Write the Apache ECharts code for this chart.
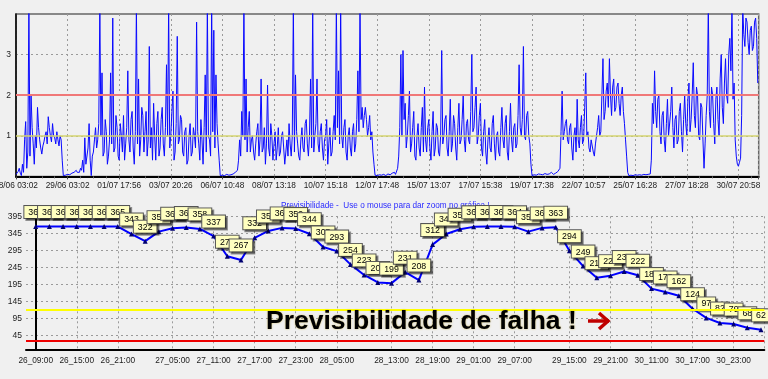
<!DOCTYPE html>
<html><head><meta charset="utf-8">
<script src="https://cdn.jsdelivr.net/npm/echarts@6/dist/echarts.min.js"></script>
<style>html,body{margin:0;padding:0;background:#f0f0f0}#c{width:768px;height:379px}</style>
</head><body><div id="c"></div><script>
// ---- top panel data ----
const topTickLabels = ["28/06 03:02","29/06 03:02","01/07 17:56","03/07 20:26","06/07 10:48","08/07 13:18","10/07 15:18","12/07 17:48","15/07 13:07","17/07 15:38","19/07 17:38","22/07 10:57","25/07 16:28","27/07 18:28","30/07 20:58"];
const topPointsPerTick = 48;
const topYTicks = [1, 2, 3];
const topRedLimit = 2;
const topYellowLimit = 1;
const topValues = [
0.05,0.02,0.12,0.2,0.08,0.02,0.3,0.1,0.9,1.35,0.2,0.6,4.2,0.5,2.0,1.2,0.8,0.3,1.0,0.7,
1.7,1.2,0.9,0.7,0.55,0.75,0.85,1.0,1.1,0.8,1.47,1.2,1.0,0.85,1.3,1.0,0.95,0.8,1.1,0.9,
0.75,1.0,0.9,0.4,0.02,0.03,0.03,0.02,0.05,0.04,0.04,0.06,0.08,0.05,0.1,0.12,0.15,0.1,0.12,0.1,
0.2,0.15,0.4,0.1,0.95,0.3,0.3,0.7,1.3,0.4,0.02,0.5,0.6,0.9,1.2,0.7,0.9,1.3,4.2,1.0,
2.55,0.5,0.6,1.4,1.1,0.3,0.5,0.9,2.55,0.8,3.9,0.6,0.7,1.5,1.2,0.5,0.4,1.3,1.0,0.6,
1.5,0.4,0.8,1.2,2.6,0.9,0.6,1.4,1.6,0.7,0.3,1.1,4.2,0.8,2.4,0.5,0.9,1.7,1.5,0.6,
1.1,1.6,0.5,0.9,3.2,0.7,1.2,0.4,1.8,1.0,0.4,1.3,1.6,0.5,0.7,1.4,1.7,0.8,0.5,1.2,
2.75,1.0,4.2,0.7,1.0,1.6,2.1,0.4,0.6,1.3,3.45,0.8,0.9,1.5,1.4,0.6,0.5,1.1,1.2,0.3,
0.4,1.0,1.3,0.5,0.6,1.2,1.0,0.7,3.8,1.1,0.8,0.4,1.4,0.9,0.3,1.2,2.5,0.6,4.2,1.0,
0.9,0.5,4.2,1.1,3.6,0.7,2.5,1.3,0.8,0.4,0.02,0.04,0.03,0.02,0.02,0.03,0.05,0.04,0.03,0.05,
0.04,0.05,0.06,0.08,0.1,0.07,0.15,0.4,0.9,0.5,1.6,1.0,4.2,0.9,2.4,0.6,1.2,1.6,0.6,0.9,
1.0,0.6,0.4,0.8,1.1,1.3,0.5,0.9,2.4,0.6,0.7,1.2,0.3,0.8,2.25,0.7,0.5,1.3,1.0,0.4,
0.8,1.1,0.4,0.7,1.2,0.5,0.6,1.0,1.1,0.7,0.3,0.6,0.9,0.5,1.3,0.8,0.5,1.0,4.2,0.6,
2.5,1.1,0.8,0.5,0.4,0.9,1.2,0.7,0.6,1.3,1.4,0.8,0.5,1.0,2.4,0.7,4.2,0.6,1.0,1.3,
2.4,0.8,0.6,1.1,1.3,0.7,0.4,0.9,1.0,1.4,0.3,0.8,1.2,0.5,0.6,1.1,1.5,0.9,4.2,1.2,
2.6,0.8,4.2,1.0,0.7,1.2,1.4,0.6,0.4,1.0,1.2,0.7,0.5,1.1,1.3,0.6,0.8,1.4,2.6,1.1,
4.2,1.4,1.7,1.2,1.5,1.7,1.4,1.0,1.2,1.5,0.9,1.1,0.6,0.3,0.03,0.02,0.02,0.03,0.04,0.02,
0.03,0.04,0.05,0.03,0.02,0.05,0.06,0.04,0.04,0.07,0.08,0.06,0.1,0.05,0.07,0.2,0.5,1.2,3.0,1.0,
3.1,1.4,1.8,0.7,1.0,1.5,2.1,0.6,0.8,1.2,1.6,0.5,0.4,1.0,1.3,0.7,0.5,1.2,1.7,0.6,
2.2,0.9,0.6,1.2,1.4,0.7,0.4,1.1,1.6,0.5,0.7,1.3,1.2,0.6,0.5,1.0,3.1,0.8,1.0,1.4,
1.5,0.7,0.5,1.1,1.9,0.6,0.8,1.5,1.3,0.7,0.4,1.2,1.8,0.8,0.9,1.4,2.0,0.9,0.6,1.3,
1.4,0.9,0.8,1.6,3.0,1.1,1.2,1.7,2.2,0.8,1.0,1.5,1.8,0.7,0.5,1.1,1.4,0.6,0.3,0.9,
1.2,0.7,0.6,1.3,1.5,0.8,0.4,1.0,1.1,0.6,0.5,1.2,1.7,0.9,0.7,1.3,1.5,0.6,0.4,1.1,
1.8,0.9,0.6,1.2,1.3,0.7,0.8,1.5,2.75,1.2,1.0,1.4,3.2,1.0,0.9,1.5,1.6,1.0,0.8,0.3,
0.02,0.03,0.04,0.05,0.03,0.04,0.06,0.05,0.05,0.03,0.04,0.06,0.07,0.05,0.05,0.07,0.06,0.08,0.1,0.06,
0.05,0.07,0.08,0.1,0.12,0.1,0.2,1.1,2.1,0.9,1.1,1.3,1.4,0.9,0.8,1.2,1.3,0.7,0.4,1.0,
1.2,0.6,1.9,0.9,0.7,1.2,1.5,0.8,0.9,1.7,2.55,1.0,1.1,0.7,0.6,0.9,0.9,0.6,0.5,0.8,
0.8,1.2,1.5,1.0,1.1,2.0,2.9,1.4,1.6,2.1,2.3,1.7,2.9,2.0,1.5,2.2,2.4,1.6,1.7,2.2,
2.3,1.8,1.5,2.0,2.2,1.6,1.3,0.9,0.5,0.1,0.02,0.04,0.03,0.02,0.02,0.04,0.04,0.03,0.03,0.05,
0.04,0.03,0.03,0.05,0.05,0.03,0.04,0.06,0.05,0.04,0.06,0.4,1.8,1.3,2.6,1.6,1.2,1.9,2.0,1.1,
0.8,1.5,1.6,0.9,0.6,1.3,1.9,1.0,1.0,1.6,2.2,1.2,0.7,1.4,1.5,0.8,0.9,1.6,1.8,1.1,
0.6,1.4,2.0,1.3,1.0,1.9,2.3,1.1,1.4,2.0,2.8,1.5,1.2,2.2,2.0,1.0,0.9,1.8,1.7,0.9,
0.2,0.8,1.5,2.0,4.2,1.6,1.2,2.2,2.0,1.3,0.8,1.9,2.2,1.4,1.0,2.4,3.0,1.7,1.3,2.3,
2.9,2.0,1.8,3.0,3.4,2.6,4.2,1.9,2.3,0.9,0.5,0.3,0.25,0.35,0.45,1.5,4.2,3.5,3.2,3.9,
3.8,3.3,3.0,3.6,3.7,3.1,3.2,3.8,3.9,3.4,2.3
];

// ---- bottom panel data ----
const bottomCategories = ["26_09:00","26_11:00","26_13:00","26_15:00","26_17:00","26_19:00","26_21:00","26_23:00","27_01:00","27_03:00","27_05:00","27_07:00","27_09:00","27_11:00","27_13:00","27_15:00","27_17:00","27_19:00","27_21:00","27_23:00","28_01:00","28_03:00","28_05:00","28_07:00","28_09:00","28_11:00","28_13:00","28_15:00","28_17:00","28_19:00","28_21:00","28_23:00","29_01:00","29_03:00","29_05:00","29_07:00","29_09:00","29_11:00","29_13:00","29_15:00","29_17:00","29_19:00","29_21:00","30_07:00","30_09:00","30_11:00","30_13:00","30_15:00","30_17:00","30_19:00","30_21:00","30_23:00","31_01:00","31_03:00"];
const bottomValues = [365,365,365,365,365,365,365,343,322,350,360,362,358,337,278,267,332,352,361,359,344,305,293,254,223,201,199,231,208,312,343,357,364,365,365,364,350,361,363,294,249,215,221,233,222,183,173,162,124,97,82,79,68,62];
const bottomTickIndex = [0,3,6,10,13,16,19,22,26,29,32,35,39,42,45,48,51];
const bottomYTicks = [45,95,145,195,245,295,345,395];
const bottomYellowLimit = 120;
const bottomRedLimit = 30;

const titleText = 'Previsibilidade -  Use o mouse para dar zoom no gráfico !';
const noteText = 'Previsibilidade de falha !';

const font = "'Liberation Sans',Arial,sans-serif";
const grid0 = {left:16, top:14, width:742.7, height:162.4};
const grid1 = {left:26, top:216.3, width:738.3, height:133};
const topXMax = 14.393;
const botXMin = -0.709, botXMax = 53.24;

const chart = echarts.init(document.getElementById('c'), null, {renderer:'canvas'});
const dash = {type:[2,3], color:'#9a9a9a', width:1};

chart.setOption({
  backgroundColor:'#f0f0f0',
  animation:false,
  grid:[
    Object.assign({show:true, borderColor:'#666', borderWidth:1.5, backgroundColor:'#f0f0f0', containLabel:false, outerBoundsMode:'none'}, grid0),
    Object.assign({show:false, containLabel:false, outerBoundsMode:'none'}, grid1)
  ],
  xAxis:[
    {gridIndex:0, type:'value', min:0, max:topXMax, interval:1,
     axisLine:{show:true, onZero:false, lineStyle:{color:'#000', width:2}},
     axisTick:{show:true, length:3, lineStyle:{color:'#444'}},
     minorTick:{show:true, splitNumber:4, length:2, lineStyle:{color:'#666'}},
     axisLabel:{show:true, showMinLabel:true, showMaxLabel:false, hideOverlap:false, margin:5, fontSize:8.3, color:'#222', fontFamily:font,
       formatter:v => (Number.isInteger(v) && topTickLabels[v]) ? topTickLabels[v] : ''},
     splitLine:{show:true, lineStyle:dash}},
    {gridIndex:1, type:'value', min:botXMin, max:botXMax,
     axisLine:{show:true, onZero:false, lineStyle:{color:'#000', width:2}},
     axisTick:{show:false, customValues: bottomTickIndex.concat([botXMax])},
     axisLabel:{show:true, customValues: bottomTickIndex, showMinLabel:true, showMaxLabel:true, hideOverlap:false, margin:7, fontSize:8.3, color:'#222', fontFamily:font,
       formatter:v => bottomCategories[Math.round(v)] || ''},
     splitLine:{show:true, lineStyle:dash}}
  ],
  yAxis:[
    {gridIndex:0, type:'value', min:0, max:4,
     axisLine:{show:true, lineStyle:{color:'#000', width:1.5}},
     axisTick:{show:false, customValues: topYTicks},
     axisLabel:{customValues: topYTicks, showMinLabel:true, showMaxLabel:true, margin:5, fontSize:8.5, color:'#222', fontFamily:font},
     splitLine:{show:true, lineStyle:dash}},
    {gridIndex:1, type:'value', min:5, max:395,
     axisLine:{show:true, lineStyle:{color:'#000', width:2}},
     axisTick:{show:false, customValues: bottomYTicks},
     axisLabel:{customValues: bottomYTicks, showMinLabel:true, showMaxLabel:true, margin:4, fontSize:8.5, color:'#222', fontFamily:font},
     splitLine:{show:true, lineStyle:dash}}
  ],
  series:[
    {type:'line', xAxisIndex:0, yAxisIndex:0, showSymbol:false, symbol:'none',
     data: topValues.map((v,i) => [i/topPointsPerTick, v]),
     lineStyle:{color:'#0a0aff', width:1}, clip:true,
     markLine:{silent:true, symbol:'none', label:{show:false}, animation:false,
       data:[
         {yAxis: topRedLimit, lineStyle:{color:'#f07878', width:2, type:'solid'}},
         {yAxis: topYellowLimit, lineStyle:{color:'#d4d470', width:1.5, type:'solid'}}
       ]}},
    {type:'line', xAxisIndex:1, yAxisIndex:1, symbol:'triangle', symbolSize:5, showSymbol:true,
     data: bottomValues.map((v,i) => [i, v]),
     lineStyle:{color:'#0000ff', width:2}, itemStyle:{color:'#000070'},
     label:{show:true, position:'top', distance:6, formatter:p => String(p.value[1]),
       fontSize:8.8, fontFamily:font, color:'#000', backgroundColor:'#ffffc0',
       borderColor:'#555', borderWidth:1, padding:[2,4,1,4],
       shadowColor:'rgba(0,0,0,0.4)', shadowOffsetX:2, shadowOffsetY:2, shadowBlur:0},
     labelLayout:{hideOverlap:false},
     markLine:{silent:true, symbol:'none', label:{show:false}, animation:false,
       data:[
         {yAxis: bottomYellowLimit, lineStyle:{color:'#ffff00', width:2, type:'solid'}},
         {yAxis: bottomRedLimit, lineStyle:{color:'#ee0000', width:2, type:'solid'}}
       ]}}
  ],
  graphic:[
    {type:'text', left:281, top:202, z:0, style:{text:titleText, fill:'#2a2aff', font:'8.2px ' + font}},
    {type:'text', left:266, top:308.5, z:100, style:{text:noteText, fill:'#000', font:"bold 26.5px 'Liberation Sans',Arial,sans-serif",
      textShadowColor:'rgba(200,170,40,0.7)', textShadowBlur:2}},
    {type:'polyline', z:100, shape:{points:[[588,321],[609,321]]}, style:{stroke:'#c00000', lineWidth:3.5, fill:null}},
    {type:'polyline', z:100, shape:{points:[[599,313],[608,321],[599,329]]}, style:{stroke:'#c00000', lineWidth:3.5, fill:null, lineJoin:'miter'}}
  ]
});
</script></body></html>
